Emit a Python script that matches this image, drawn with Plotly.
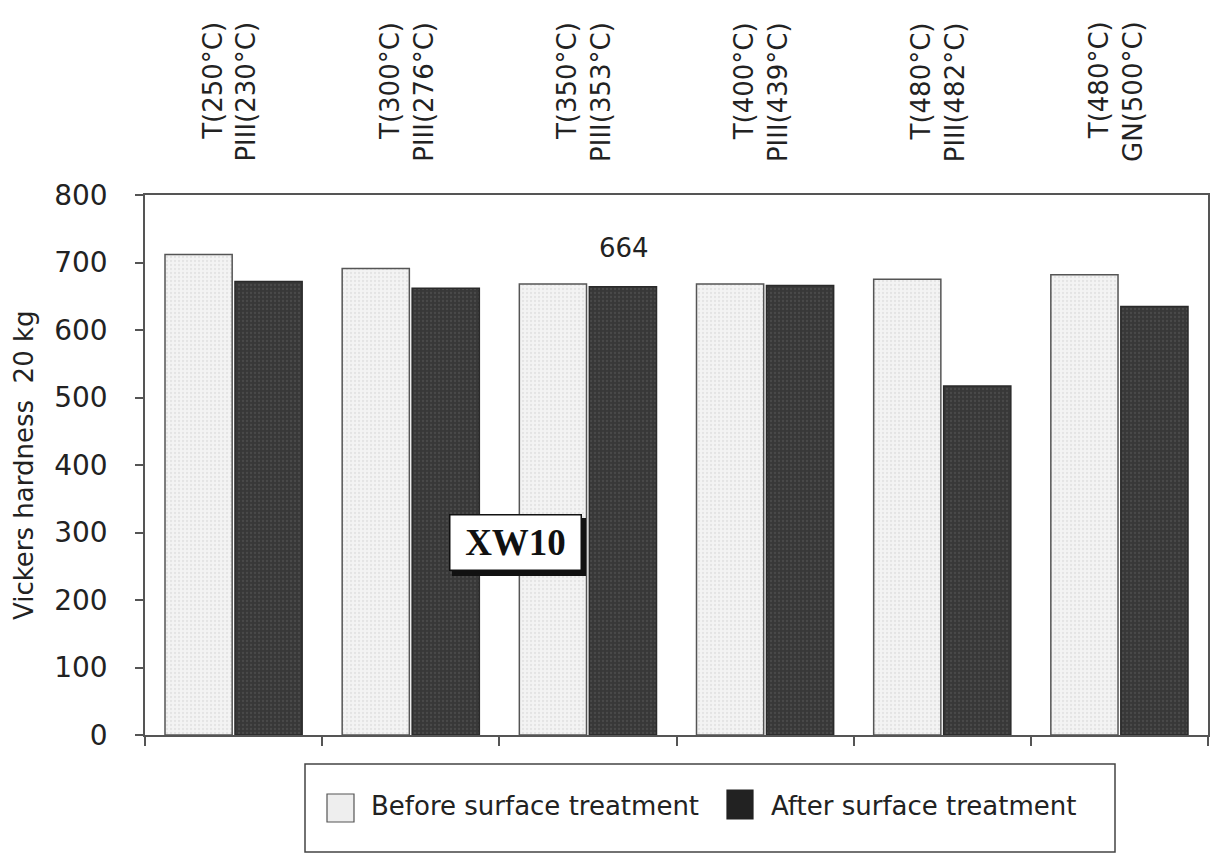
import plotly.graph_objects as go

# ---- data ----
categories = ["T(250°C)<br>PIII(230°C)", "T(300°C)<br>PIII(276°C)", "T(350°C)<br>PIII(353°C)",
              "T(400°C)<br>PIII(439°C)", "T(480°C)<br>PIII(482°C)", "T(480°C)<br>GN(500°C)"]
series_names = ["Before surface treatment", "After surface treatment"]
before = [712, 691, 668, 668, 675, 682]
after = [672, 662, 664, 666, 517, 635]
y_ticks = [0, 100, 200, 300, 400, 500, 600, 700, 800]
value_label = "664"
sample_label = "XW10"
y_title = "Vickers hardness  20 kg"

W, H = 1211, 854
L, R, T, B = 145, 3, 195, 119
PW, PH = W - L - R, H - T - B

def px_x(p):
    return (p - L) / PW

def px_y(p):
    return (H - B - p) / PH

FONT = "DejaVu Sans"

fig = go.Figure()
fig.add_trace(go.Bar(
    x=categories, y=before, name=series_names[0], showlegend=False,
    marker=dict(color="#f1f1f1", line=dict(color="#555555", width=1.5),
                pattern=dict(shape=".", fgcolor="#d4d4d4", bgcolor="#f3f3f3", size=4, solidity=0.25)),
))
fig.add_trace(go.Bar(
    x=categories, y=after, name=series_names[1], showlegend=False,
    marker=dict(color="#3a3a3a", line=dict(color="#2a2a2a", width=1.5),
                pattern=dict(shape=".", fgcolor="#5a5a5a", bgcolor="#383838", size=4, solidity=0.25)),
))

annotations = []
# top category labels
for c in categories:
    annotations.append(dict(
        x=c, xref="x", y=1, yref="paper", yanchor="bottom", xanchor="center",
        yshift=31, xshift=-4, text=c, textangle=-90, showarrow=False, align="right",
        font=dict(family=FONT, size=26, color="#222222")))

# value label over third "after" bar
annotations.append(dict(
    x=categories[2], xref="x", y=after[2], yref="y", yanchor="bottom", xshift=36, yshift=22,
    text=value_label, showarrow=False, font=dict(family=FONT, size=26, color="#222222")))

# y axis title
annotations.append(dict(
    x=0, xref="paper", xshift=24 - L, xanchor="center", y=0.5, yref="paper", yanchor="middle",
    text=y_title, textangle=-90, showarrow=False, font=dict(family=FONT, size=26, color="#222222")))

# XW10 box (shadow drawn as a shape)
annotations.append(dict(
    x=px_x(515), xref="paper", y=px_y(542), yref="paper",
    text="<b>" + sample_label + "</b>", showarrow=False, width=128, height=52, bgcolor="white",
    bordercolor="#111111", borderwidth=1.5,
    font=dict(family="Liberation Serif", size=37, color="#111111")))

shapes = [
    # shadow of XW10 box
    dict(type="rect", xref="paper", yref="paper", x0=px_x(452), x1=px_x(586), y0=px_y(576), y1=px_y(518),
         line=dict(width=0), fillcolor="#111111", layer="above"),
    # manual legend
    dict(type="rect", xref="paper", yref="paper", x0=px_x(305), x1=px_x(1115), y0=px_y(852), y1=px_y(764),
         line=dict(color="#444444", width=1.5), fillcolor="white"),
    dict(type="rect", xref="paper", yref="paper", x0=px_x(327), x1=px_x(354), y0=px_y(822), y1=px_y(794),
         line=dict(color="#555555", width=1.2), fillcolor="#eeeeee"),
    dict(type="rect", xref="paper", yref="paper", x0=px_x(727), x1=px_x(753), y0=px_y(819), y1=px_y(790),
         line=dict(color="#222222", width=1.2), fillcolor="#222222"),
]
annotations.append(dict(
    x=px_x(369), xref="paper", xanchor="left", y=px_y(806), yref="paper", yanchor="middle",
    text=series_names[0], showarrow=False, font=dict(family=FONT, size=26, color="#222222")))
annotations.append(dict(
    x=px_x(769), xref="paper", xanchor="left", y=px_y(806), yref="paper", yanchor="middle",
    text=series_names[1], showarrow=False, font=dict(family=FONT, size=26, color="#222222")))

fig.update_layout(
    width=W, height=H, margin=dict(l=L, r=R, t=T, b=B, autoexpand=False),
    paper_bgcolor="white", plot_bgcolor="white",
    barmode="group", bargap=0.21, bargroupgap=0.04,
    showlegend=False, annotations=annotations, shapes=shapes,
    font=dict(family=FONT, color="#222222"),
)
fig.update_xaxes(
    showline=True, linecolor="#555555", linewidth=1.5, mirror=True,
    showticklabels=False, ticks="outside", tickson="boundaries", ticklen=9, tickcolor="#555555",
    tickwidth=1.5, showgrid=False, zeroline=False, range=[-0.5, len(categories) - 0.5],
)
fig.update_yaxes(
    range=[0, 800], tickvals=y_ticks, showline=True, linecolor="#555555", linewidth=1.5, mirror=True,
    ticks="outside", ticklen=8, tickcolor="#555555", tickwidth=1.5, showgrid=False, zeroline=False,
    tickfont=dict(family=FONT, size=28, color="#222222"), ticklabelstandoff=22,
)

fig.write_html("out.html")
